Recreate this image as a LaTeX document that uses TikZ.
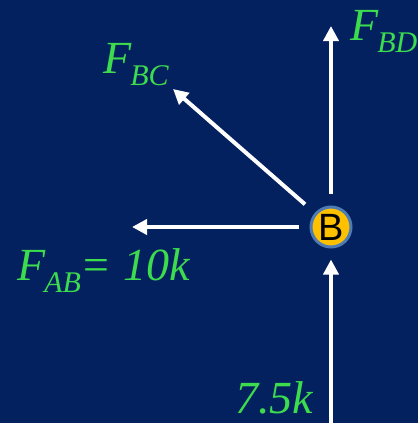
\documentclass[tikz,border=0pt]{standalone}
\usepackage{fontspec}
\setmainfont{Liberation Serif}
\newfontfamily\labelsans{Liberation Sans}
\usetikzlibrary{arrows.meta,positioning}
\definecolor{navy}{HTML}{03215F}
\definecolor{forceG}{HTML}{3CDC4E}
\definecolor{jointF}{HTML}{FFC000}
\definecolor{jointR}{HTML}{4F7BB5}
\newcommand{\Fsub}[1]{F\kern-1pt\raisebox{-12pt}{\fontsize{30}{30}\selectfont #1}}

\begin{document}
\begin{tikzpicture}[x=1pt,y=-1pt,>={Triangle[length=15pt,width=15pt]},
  force/.style={draw=white,line width=4pt,->},
  lbl/.style={text=forceG,inner sep=0pt,anchor=base west,
              font=\fontsize{46}{50}\selectfont\itshape}]
\fill[navy] (0,0) rectangle (418,423);
\useasboundingbox (0,0) rectangle (418,423);

\node[circle,draw=jointR,fill=jointF,line width=3pt,minimum size=40pt,inner sep=0pt,
      font=\labelsans\fontsize{38}{38}\selectfont] (B) at (331,227) {B};

\coordinate (tipBD) at (331,26);
\coordinate (tipBC) at (173,89);
\coordinate (tipAB) at (132,227);
\coordinate (load) at (331,428);

\draw[force,shorten <=12pt] (B) -- (tipBD);
\draw[force,shorten <=13pt] (B) -- (tipBC);
\draw[force,shorten <=11pt] (B) -- (tipAB);
\draw[force,shorten >=11pt] (load) -- (B);

\node[lbl] (fbd) at (350,40) {\Fsub{BD}};
\node[lbl] (fbc) at (103,73) {\Fsub{BC}};
\node[lbl] (fab) at (17,280) {\Fsub{AB}= 10k};
\node[lbl] (fload) at (235,413) {7.5k};
\end{tikzpicture}
\end{document}
